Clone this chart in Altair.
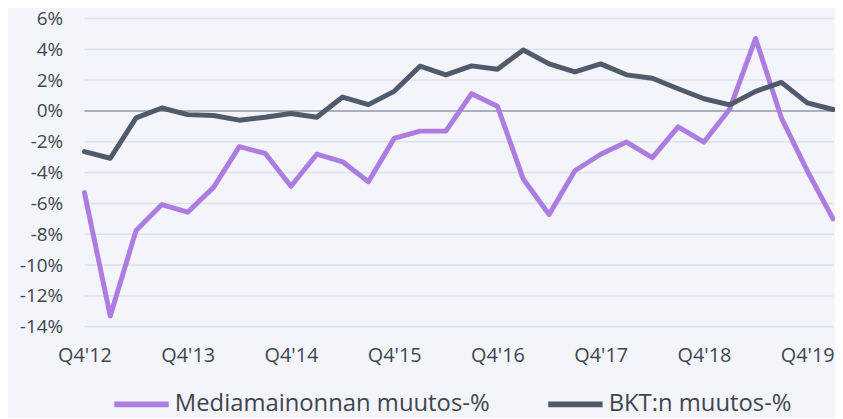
import altair as alt
import pandas as pd

quarters = ["Q4'12", "Q1'13", "Q2'13", "Q3'13", "Q4'13", "Q1'14", "Q2'14", "Q3'14",
            "Q4'14", "Q1'15", "Q2'15", "Q3'15", "Q4'15", "Q1'16", "Q2'16", "Q3'16",
            "Q4'16", "Q1'17", "Q2'17", "Q3'17", "Q4'17", "Q1'18", "Q2'18", "Q3'18",
            "Q4'18", "Q1'19", "Q2'19", "Q3'19", "Q4'19", "Q1'20"]
tick_labels = ["Q4'12", "Q4'13", "Q4'14", "Q4'15", "Q4'16", "Q4'17", "Q4'18", "Q4'19"]

media = [-5.3, -13.3, -7.75, -6.07, -6.57, -4.96, -2.32, -2.75, -4.89, -2.81,
         -3.30, -4.59, -1.78, -1.31, -1.31, 1.12, 0.30, -4.42, -6.72, -3.88,
         -2.81, -2.02, -3.03, -1.03, -2.02, 0.13, 4.70, -0.45, -3.88, -7.0]
bkt = [-2.64, -3.07, -0.45, 0.19, -0.24, -0.30, -0.60, -0.41, -0.17, -0.41,
       0.90, 0.41, 1.27, 2.90, 2.34, 2.92, 2.70, 3.95, 3.05, 2.53,
       3.05, 2.34, 2.12, 1.44, 0.79, 0.39, 1.27, 1.85, 0.52, 0.09]

series_names = ["Mediamainonnan muutos-%", "BKT:n muutos-%"]
series_colors = ["#AC7CE0", "#4F5A6B"]

FONT = "Open Sans"
TEXT_COLOR = "#3F4551"

rows = []
for i, q in enumerate(quarters):
    rows.append({"q": q, "s": series_names[0], "v": media[i], "o": 0})
    rows.append({"q": q, "s": series_names[1], "v": bkt[i], "o": 1})
df = pd.DataFrame(rows)

y_ticks = list(range(-14, 7, 2))

x_enc = alt.X("q:O", sort=quarters,
              scale=alt.Scale(type="point", padding=0),
              axis=alt.Axis(values=tick_labels, labelAngle=0, title=None,
                            domain=False, ticks=False, grid=False,
                            labelPadding=19, labelFontSize=20,
                            labelColor=TEXT_COLOR, labelFont=FONT))
y_scale = alt.Scale(domain=[-14, 6], nice=False, zero=False)
y_axis = alt.Axis(values=y_ticks, labelExpr="datum.value + '%'",
                  title=None, domain=False, ticks=False, grid=False,
                  labelOverlap=False, labelFlush=False,
                  labelPadding=22, labelFontSize=19,
                  labelColor=TEXT_COLOR, labelFont=FONT)

grid = alt.Chart(pd.DataFrame({"t": y_ticks})).mark_rule(
    color="#DDE1E8", strokeWidth=1.5
).encode(y=alt.Y("t:Q", scale=y_scale, axis=y_axis))

zero = alt.Chart(pd.DataFrame({"t": [0]})).mark_rule(
    color="#A8B0BE", strokeWidth=2
).encode(y=alt.Y("t:Q", scale=y_scale, axis=y_axis))

lines = alt.Chart(df).mark_line(strokeWidth=5, strokeJoin="round", strokeCap="round").encode(
    x=x_enc,
    y=alt.Y("v:Q", scale=y_scale, axis=y_axis),
    color=alt.Color("s:N", sort=series_names,
                    scale=alt.Scale(domain=series_names, range=series_colors),
                    legend=alt.Legend(orient="none", legendX=27, legendY=358,
                                      direction="horizontal", padding=0,
                                      title=None, symbolType="stroke",
                                      symbolSize=3000, symbolStrokeWidth=6,
                                      labelFontSize=24, labelFont=FONT,
                                      labelLimit=0,
                                      labelColor=TEXT_COLOR, columnPadding=46,
                                      labelOffset=3)),
    order=alt.Order("o:Q"),
)

chart = alt.layer(grid, zero, lines).properties(
    width=754, height=310.6,
    padding={"left": 77, "top": 9, "right": 2, "bottom": 90},
    autosize=alt.AutoSizeParams(type="none"),
    background="#F3F5FA",
).configure_view(stroke=None)

chart.save("out.html", embed_options={"renderer": "svg", "actions": False})
